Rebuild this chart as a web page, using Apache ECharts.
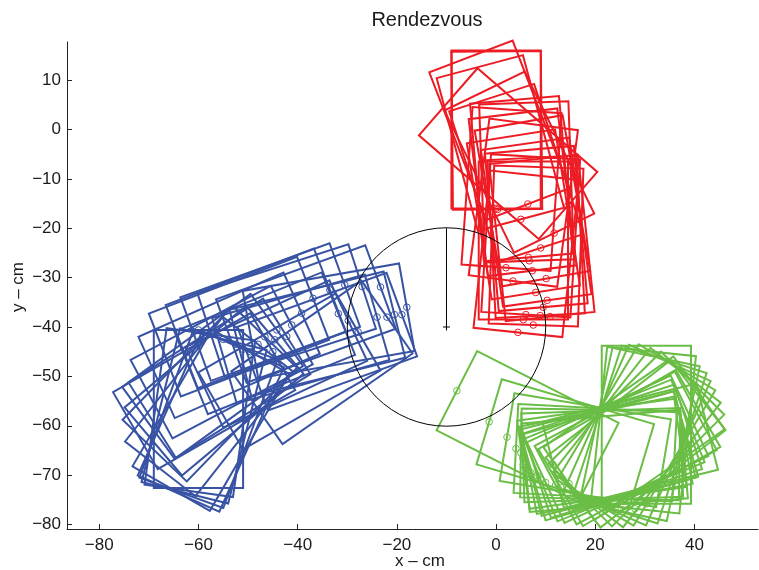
<!DOCTYPE html>
<html><head><meta charset="utf-8">
<script src="https://cdn.jsdelivr.net/npm/echarts@6/dist/echarts.min.js"></script>
<style>html,body{margin:0;padding:0;background:#fff}#c{width:759px;height:570px}</style>
</head><body><div id="c"></div>
<script>
// ---- data (cm / degrees) ----
// Each robot pose: front-marker position (x,y) and heading of the body (deg)
const robotLength = 32;
const robotWidth = 18;

const redX = [0.0, 0.3, 6.4, 5.0, 14.5, 11.7, 9.0, 6.5, 6.7, 7.3, 2.0, 3.4, 10.1, 8.0, 10.3, 9.5, 6.0, 8.9, 10.9, 5.5, 7.5, 4.4];
const redY = [-16.0, -16.2, -15.1, -18.2, -15.4, -21.0, -24.0, -25.9, -26.6, -28.6, -28.0, -30.7, -30.2, -33.0, -34.6, -36.0, -37.5, -37.7, -37.9, -38.5, -39.6, -41.1];
const redHeading = [90, 90.5, 111, 105, 139, 116, 108, 95, 92, 97, 86, 82.5, 100, 99, 98, 95, 86.5, 93, 96, 90, 88, 84];

const greenX = [-7.9, -1.4, 2.2, 4.0, 5.0, 5.4, 5.5, 6.0, 6.5, 7.0, 8.3, 7.5, 9.0, 10.0, 11.5, 12.0, 13.0, 14.7, 15.5, 17.0, 18.5, 20.0, 22.0, 24.0, 25.6, 28.0, 30.3];
const greenY = [-52.9, -59.2, -62.3, -64.6, -65.5, -66.5, -67.9, -68.5, -69.0, -69.5, -70.1, -70.5, -71.0, -71.5, -67.9, -72.0, -72.5, -71.7, -73.5, -74.0, -75.0, -75.6, -76.5, -77.0, -77.4, -76.8, -75.8];
const greenHeading = [-27, -16.5, -9.5, -3, -1, 2, 8, 5, 11, 14, 18, 16, 22, 25, 14, 28, 30, 35, 38, 45, 52, 59, 66, 72, 78, 84, 90];

const blueX = [-60.0, -57.5, -55.0, -52.5, -51.0, -49.5, -48.0, -46.6, -45.0, -44.6, -44.2, -42.2, -41.2, -39.2, -36.9, -33.5, -30.5, -27.0, -23.3, -31.8, -29.8, -27.8, -24.0, -18.0, -22.0, -19.0, -20.5];
const blueY = [-40.6, -41.5, -42.5, -43.5, -44.5, -45.0, -43.5, -42.0, -45.0, -42.6, -40.6, -41.9, -39.6, -37.2, -34.2, -32.5, -31.5, -31.8, -31.9, -37.3, -38.7, -41.0, -38.0, -36.0, -38.0, -37.5, -37.5];
const blueHeading = [270, 262, 256, 250, 246, 240, 232, 226, 210, 220, 216, 212, 208, 204, 201, 201, 200, 198, 200, 202, 205, 210, 196, 190, 215, 200, 194];

const goalCenter = [-10, -40];
const goalRadius = 20;
const goalPointer = [[-10, -40], [-10, -20]];

const xTickValues = [-80, -60, -40, -20, 0, 20, 40];
const yTickValues = [-80, -70, -60, -50, -40, -30, -20, -10, 0, 10];

// ---- chart ----
const FONT = '"Liberation Sans", Arial, Helvetica, sans-serif';
function zip3(a, b, c) { return a.map((v, i) => [v, b[i], c[i]]); }
function minusFmt(v) { return v < 0 ? '\u2212' + Math.abs(v) : String(v); }

function robotSeries(name, color, data) {
  return {
    type: 'custom', name: name, data: data, clip: false,
    encode: { x: 0, y: 1 },
    renderItem: function (params, api) {
      const x = api.value(0), y = api.value(1), th = api.value(2) * Math.PI / 180;
      const dx = Math.cos(th), dy = Math.sin(th), nx = -dy, ny = dx;
      const hw = robotWidth / 2, L = robotLength;
      const pts = [
        [x + hw * nx, y + hw * ny],
        [x + L * dx + hw * nx, y + L * dy + hw * ny],
        [x + L * dx - hw * nx, y + L * dy - hw * ny],
        [x - hw * nx, y - hw * ny]
      ].map(p => api.coord(p));
      const c = api.coord([x, y]);
      return {
        type: 'group',
        children: [
          { type: 'polygon', shape: { points: pts }, style: { fill: 'none', stroke: color, lineWidth: 2 } },
          { type: 'circle', shape: { cx: c[0], cy: c[1], r: 3.3 }, style: { fill: 'none', stroke: color, lineWidth: 1 } }
        ]
      };
    }
  };
}

const chart = echarts.init(document.getElementById('c'), null, { renderer: 'canvas' });
chart.setOption({
  animation: false,
  backgroundColor: '#fff',
  grid: { left: 67, right: 1, top: 42, bottom: 41, containLabel: false, outerBoundsMode: 'none' },
  xAxis: {
    type: 'value', min: -86.5, max: 52.8,
    axisLine: { show: true, onZero: false, lineStyle: { color: '#222', width: 1 } },
    axisTick: { show: true, inside: true, length: 5, customValues: xTickValues, lineStyle: { color: '#222' } },
    axisLabel: { customValues: xTickValues, formatter: minusFmt, fontSize: 17, color: '#1a1a1a', fontFamily: FONT, margin: 8 },
    splitLine: { show: false }
  },
  yAxis: {
    type: 'value', min: -80.9, max: 17.7,
    axisLine: { show: true, onZero: false, lineStyle: { color: '#222', width: 1 } },
    axisTick: { show: true, inside: true, length: 5, customValues: yTickValues, lineStyle: { color: '#222' } },
    axisLabel: { customValues: yTickValues, formatter: minusFmt, fontSize: 17, color: '#1a1a1a', fontFamily: FONT, margin: 6 },
    splitLine: { show: false }
  },
  graphic: [
    { type: 'text', x: 427, y: 20, style: { text: 'Rendezvous', fontSize: 20, fontFamily: FONT, fill: '#1a1a1a', textAlign: 'center', textVerticalAlign: 'middle' } },
    { type: 'text', x: 420, y: 561, style: { text: 'x \u2013 cm', fontSize: 17, fontFamily: FONT, fill: '#1a1a1a', textAlign: 'center', textVerticalAlign: 'middle' } },
    { type: 'text', x: 18, y: 287, rotation: Math.PI / 2, style: { text: 'y \u2013 cm', fontSize: 17, fontFamily: FONT, fill: '#1a1a1a', textAlign: 'center', textVerticalAlign: 'middle' } }
  ],
  series: [
    robotSeries('blue', '#3853a4', zip3(blueX, blueY, blueHeading)),
    robotSeries('red', '#ed1c24', zip3(redX, redY, redHeading)),
    robotSeries('green', '#6abd45', zip3(greenX, greenY, greenHeading)),
    {
      type: 'custom', name: 'goal', data: [[goalCenter[0], goalCenter[1], goalRadius]], clip: false,
      encode: { x: 0, y: 1 },
      renderItem: function (params, api) {
        const c = api.coord([api.value(0), api.value(1)]);
        const r = api.size([api.value(2), 0])[0];
        return {
          type: 'group', children: [
            { type: 'circle', shape: { cx: c[0], cy: c[1], r: r }, style: { fill: 'none', stroke: '#000', lineWidth: 1 } },
            { type: 'line', shape: { x1: c[0] - 3.5, y1: c[1], x2: c[0] + 3.5, y2: c[1] }, style: { stroke: '#000', lineWidth: 1 } },
            { type: 'line', shape: { x1: c[0], y1: c[1] - 3.5, x2: c[0], y2: c[1] + 3.5 }, style: { stroke: '#000', lineWidth: 1 } }
          ]
        };
      }
    },
    {
      type: 'line', name: 'pointer', data: goalPointer, symbol: 'none',
      lineStyle: { color: '#000', width: 1 }, silent: true
    }
  ]
});
</script></body></html>
